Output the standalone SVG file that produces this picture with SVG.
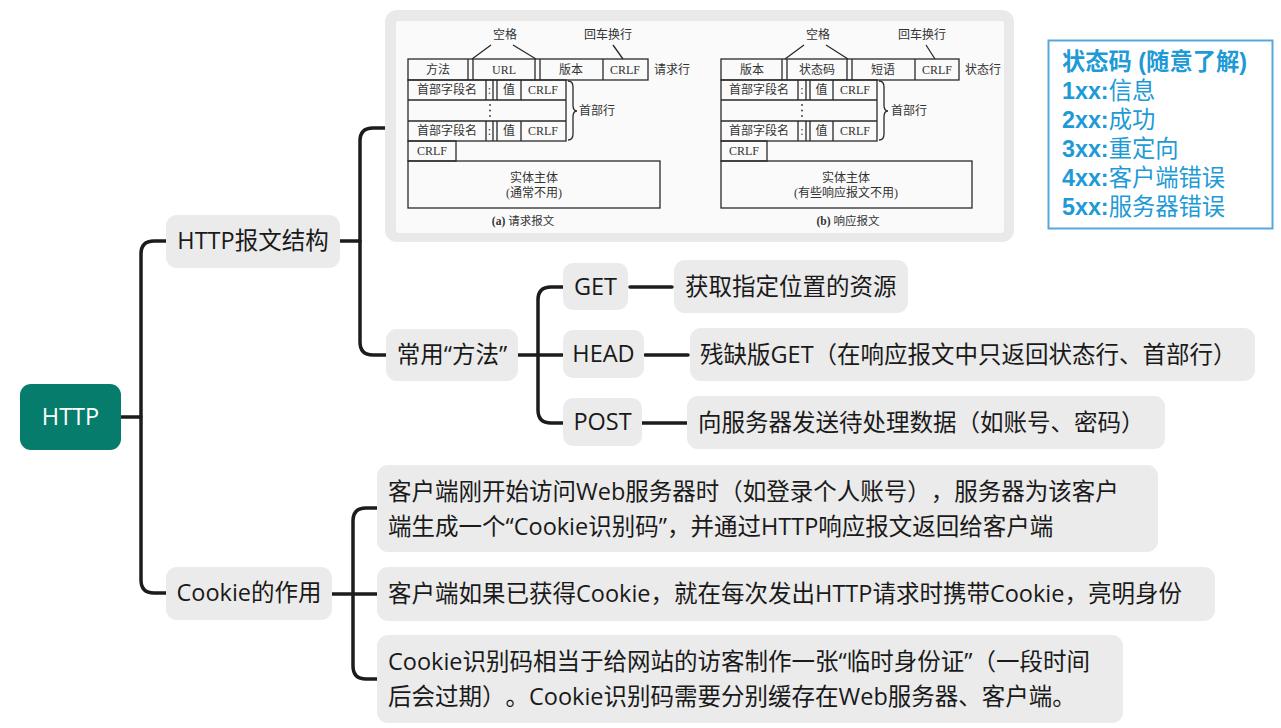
<svg xmlns="http://www.w3.org/2000/svg" width="1281" height="728" viewBox="0 0 1281 728">
<style>
text{text-spacing-trim:space-all}
.n{fill:#EBEBEB}
.t{font-family:"Open Sans","Noto Sans CJK SC",sans-serif;font-size:23.5px;fill:#1a1a1a}
.c{fill:none;stroke:#1c1c1c;stroke-width:3.5;stroke-linecap:round}
.f{font-family:"Liberation Serif","Noto Sans CJK SC",serif;font-size:12px;fill:#333}
.fl{fill:none;stroke:#2a2a2a;stroke-width:1.3}
.s{font-family:"Liberation Sans","Noto Sans CJK SC",sans-serif;font-size:23.3px;fill:#1E9AD6}
</style>
<rect width="1281" height="728" fill="#ffffff"/>
<g id="connectors" class="c">
<path d="M121,417 H141"/>
<path d="M166,241 H154 Q141,241 141,254 V580 Q141,593 154,593 H166"/>
<path d="M340,241 H360"/>
<path d="M385,128 H373 Q360,128 360,141 V342 Q360,355 373,355 H386"/>
<path d="M518,355 H563"/>
<path d="M563,287 H551 Q538,287 538,300 V410 Q538,423 551,423 H563"/>
<path d="M630,287 H672"/>
<path d="M645,355 H688"/>
<path d="M642,423 H687"/>
<path d="M332,594 H377"/>
<path d="M377,508 H366 Q353,508 353,521 V666 Q353,679 366,679 H377"/>
</g>
<g id="root">
<rect x="20" y="384" width="101" height="66" rx="11" fill="#067D6C"/>
<text x="70.5" y="425" text-anchor="middle" class="t" style="fill:#fff">HTTP</text>
</g>
<g id="n-struct">
<rect class="n" x="166" y="215" width="174" height="53" rx="11"/>
<text x="253" y="249" text-anchor="middle" class="t">HTTP报文结构</text>
</g>
<g id="n-figure">
<rect x="385" y="10" width="629" height="232" rx="12" fill="#E9E9E9"/>
<rect x="396" y="21" width="608" height="212" rx="3" fill="#FAFAFA"/>
<g id="fig-a">
<text class="f" x="505" y="39" text-anchor="middle">空格</text>
<text class="f" x="608" y="39" text-anchor="middle">回车换行</text>
<path class="fl" d="M491,45 L472,59 M513,45 L536,59 M613,45 L623,59"/>
<rect class="fl" x="408" y="59" width="240" height="21"/>
<path class="fl" d="M468,59 V80 M473,59 V80 M535,59 V80 M540,59 V80 M603,59 V80"/>
<text class="f" x="438" y="74" text-anchor="middle">方法</text>
<text class="f" x="504" y="74" text-anchor="middle">URL</text>
<text class="f" x="571" y="74" text-anchor="middle">版本</text>
<text class="f" x="625" y="74" text-anchor="middle">CRLF</text>
<text class="f" x="654" y="74">请求行</text>
<rect class="fl" x="408" y="80" width="158" height="61"/>
<path class="fl" d="M408,100 H566 M408,121 H566 M486,80 V100 M493,80 V100 M497,80 V100 M521,80 V100 M486,121 V141 M493,121 V141 M497,121 V141 M521,121 V141"/>
<text class="f" x="447" y="94" text-anchor="middle">首部字段名</text>
<text class="f" x="489.5" y="94" text-anchor="middle">:</text>
<text class="f" x="509" y="94" text-anchor="middle">值</text>
<text class="f" x="543" y="94" text-anchor="middle">CRLF</text>
<text class="f" x="447" y="135" text-anchor="middle">首部字段名</text>
<text class="f" x="489.5" y="135" text-anchor="middle">:</text>
<text class="f" x="509" y="135" text-anchor="middle">值</text>
<text class="f" x="543" y="135" text-anchor="middle">CRLF</text>
<g fill="#333"><circle cx="490" cy="105" r="0.9"/><circle cx="490" cy="110.5" r="0.9"/><circle cx="490" cy="116" r="0.9"/></g>
<path class="fl" d="M568,81 Q573,81 573,87 V105 Q573,111 577,111 Q573,111 573,117 V134 Q573,140 568,140"/>
<text class="f" x="579" y="115">首部行</text>
<rect class="fl" x="408" y="141" width="48" height="20"/>
<text class="f" x="432" y="155" text-anchor="middle">CRLF</text>
<rect class="fl" x="408" y="161" width="252" height="47"/>
<text class="f" x="534" y="182" text-anchor="middle">实体主体</text>
<text class="f" x="534" y="197" text-anchor="middle">(通常不用)</text>
<text class="f" x="523" y="225" text-anchor="middle" style="font-size:11.5px"><tspan font-weight="bold">(a)</tspan> 请求报文</text>
</g>
<g id="fig-b">
<text class="f" x="818" y="39" text-anchor="middle">空格</text>
<text class="f" x="922" y="39" text-anchor="middle">回车换行</text>
<path class="fl" d="M804,45 L785,59 M826,45 L848,59 M926,45 L935,59"/>
<rect class="fl" x="721" y="59" width="238" height="21"/>
<path class="fl" d="M782,59 V80 M787,59 V80 M847,59 V80 M852,59 V80 M915,59 V80"/>
<text class="f" x="752" y="74" text-anchor="middle">版本</text>
<text class="f" x="817" y="74" text-anchor="middle">状态码</text>
<text class="f" x="883" y="74" text-anchor="middle">短语</text>
<text class="f" x="937" y="74" text-anchor="middle">CRLF</text>
<text class="f" x="965" y="74">状态行</text>
<rect class="fl" x="721" y="80" width="156" height="61"/>
<path class="fl" d="M721,100 H877 M721,121 H877 M798,80 V100 M806,80 V100 M810,80 V100 M833,80 V100 M798,121 V141 M806,121 V141 M810,121 V141 M833,121 V141"/>
<text class="f" x="759" y="94" text-anchor="middle">首部字段名</text>
<text class="f" x="802" y="94" text-anchor="middle">:</text>
<text class="f" x="821.5" y="94" text-anchor="middle">值</text>
<text class="f" x="855" y="94" text-anchor="middle">CRLF</text>
<text class="f" x="759" y="135" text-anchor="middle">首部字段名</text>
<text class="f" x="802" y="135" text-anchor="middle">:</text>
<text class="f" x="821.5" y="135" text-anchor="middle">值</text>
<text class="f" x="855" y="135" text-anchor="middle">CRLF</text>
<g fill="#333"><circle cx="802" cy="105" r="0.9"/><circle cx="802" cy="110.5" r="0.9"/><circle cx="802" cy="116" r="0.9"/></g>
<path class="fl" d="M879,81 Q884,81 884,87 V105 Q884,111 888,111 Q884,111 884,117 V134 Q884,140 879,140"/>
<text class="f" x="891" y="115">首部行</text>
<rect class="fl" x="721" y="141" width="46" height="20"/>
<text class="f" x="744" y="155" text-anchor="middle">CRLF</text>
<rect class="fl" x="721" y="161" width="251" height="47"/>
<text class="f" x="846" y="182" text-anchor="middle">实体主体</text>
<text class="f" x="846" y="197" text-anchor="middle">(有些响应报文不用)</text>
<text class="f" x="848" y="225" text-anchor="middle" style="font-size:11.5px"><tspan font-weight="bold">(b)</tspan> 响应报文</text>
</g>
</g>
<g id="n-methods">
<rect class="n" x="386" y="329" width="132" height="52" rx="11"/>
<text x="452" y="363" text-anchor="middle" class="t">常用“方法”</text>
</g>
<g id="n-get">
<rect class="n" x="563" y="263" width="65" height="47" rx="10"/>
<text x="595.5" y="295" text-anchor="middle" class="t">GET</text>
</g>
<g id="n-get-d">
<rect class="n" x="674" y="260" width="234" height="53" rx="11"/>
<text x="685" y="295" class="t">获取指定位置的资源</text>
</g>
<g id="n-head">
<rect class="n" x="563" y="330" width="81" height="48" rx="10"/>
<text x="603.5" y="362" text-anchor="middle" class="t">HEAD</text>
</g>
<g id="n-head-d">
<rect class="n" x="690" y="328" width="565" height="53" rx="11"/>
<text x="700" y="363" class="t">残缺版GET（在响应报文中只返回状态行、首部行）</text>
</g>
<g id="n-post">
<rect class="n" x="563" y="398" width="79" height="48" rx="10"/>
<text x="602.5" y="430" text-anchor="middle" class="t">POST</text>
</g>
<g id="n-post-d">
<rect class="n" x="687" y="396" width="478" height="53" rx="11"/>
<text x="698" y="431" class="t">向服务器发送待处理数据（如账号、密码）</text>
</g>
<g id="n-cookie">
<rect class="n" x="166" y="567" width="166" height="53" rx="11"/>
<text x="249" y="601" text-anchor="middle" class="t">Cookie的作用</text>
</g>
<g id="n-c1">
<rect class="n" x="377" y="465" width="781" height="87" rx="11"/>
<text x="388" y="500" class="t">客户端刚开始访问Web服务器时（如登录个人账号），服务器为该客户</text>
<text x="388" y="535" class="t">端生成一个“Cookie识别码”，并通过HTTP响应报文返回给客户端</text>
</g>
<g id="n-c2">
<rect class="n" x="377" y="567" width="838" height="54" rx="11"/>
<text x="388" y="602" class="t">客户端如果已获得Cookie，就在每次发出HTTP请求时携带Cookie，亮明身份</text>
</g>
<g id="n-c3">
<rect class="n" x="377" y="635" width="746" height="88" rx="11"/>
<text x="388" y="670" class="t">Cookie识别码相当于给网站的访客制作一张“临时身份证”（一段时间</text>
<text x="388" y="705" class="t">后会过期）。Cookie识别码需要分别缓存在Web服务器、客户端。</text>
</g>
<g id="status">
<rect x="1048.5" y="40.5" width="224" height="188" fill="#fff" stroke="#5AA5DC" stroke-width="2"/>
<text class="s" x="1062" y="70" font-weight="bold">状态码 (随意了解)</text>
<text class="s" x="1062" y="99"><tspan font-weight="bold">1xx:</tspan>信息</text>
<text class="s" x="1062" y="128"><tspan font-weight="bold">2xx:</tspan>成功</text>
<text class="s" x="1062" y="157"><tspan font-weight="bold">3xx:</tspan>重定向</text>
<text class="s" x="1062" y="186"><tspan font-weight="bold">4xx:</tspan>客户端错误</text>
<text class="s" x="1062" y="215"><tspan font-weight="bold">5xx:</tspan>服务器错误</text>
</g>
</svg>
